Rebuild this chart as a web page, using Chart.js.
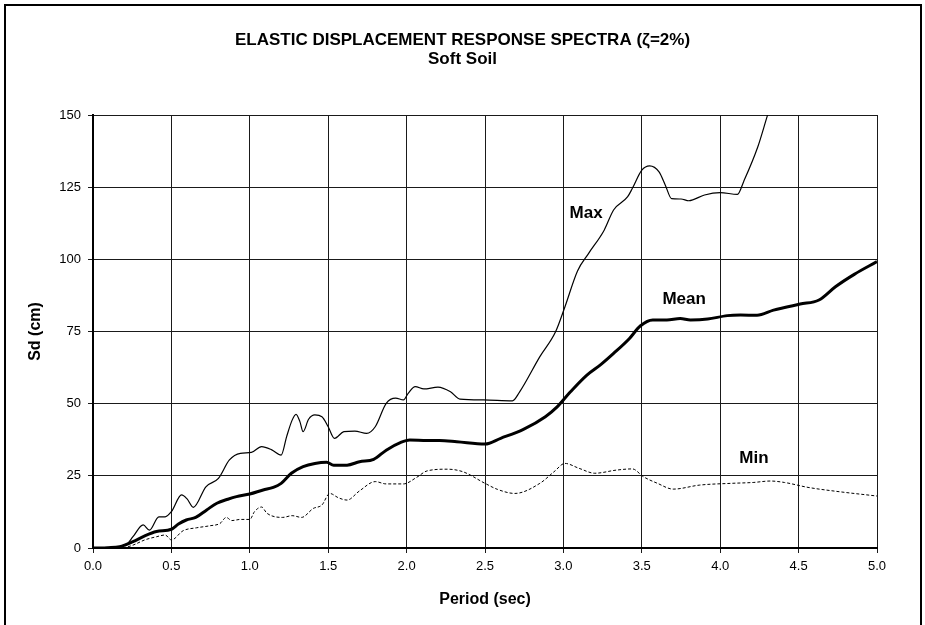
<!DOCTYPE html>
<html>
<head>
<meta charset="utf-8">
<title>Elastic Displacement Response Spectra</title>
<script src="https://cdn.jsdelivr.net/npm/chart.js@4.4.1/dist/chart.umd.min.js"></script>
<style>
  html, body { margin: 0; padding: 0; background: #fff; overflow: hidden; }
  .frame {
    position: absolute; left: 4px; top: 4px;
    width: 914px; height: 700px;
    border: 2px solid #000;
  }
  .wrap { position: absolute; left: 0; top: 0; width: 925px; height: 625px; }
</style>
</head>
<body>
<div class="frame"></div>
<div class="wrap"><canvas id="spectra"></canvas></div>
<script>
// Sd (cm) vs period (sec), soft soil, 2% damping
const maxPeriods = [0.00, 0.10, 0.17, 0.22, 0.255, 0.32, 0.36, 0.42, 0.46, 0.50, 0.565, 0.60, 0.64, 0.72, 0.80, 0.87, 0.94, 1.01, 1.075, 1.14, 1.20, 1.235, 1.27, 1.295, 1.32, 1.34, 1.375, 1.415, 1.46, 1.50, 1.54, 1.60, 1.67, 1.745, 1.80, 1.87, 1.93, 1.98, 2.01, 2.055, 2.11, 2.20, 2.28, 2.34, 2.49, 2.675, 2.72, 2.85, 2.95, 3.01, 3.09, 3.16, 3.26, 3.32, 3.41, 3.44, 3.50, 3.55, 3.61, 3.65, 3.69, 3.75, 3.80, 3.90, 4.00, 4.11, 4.15, 4.24, 4.30, 4.36];
const maxSd = [0.0, 0.2, 0.5, 1.5, 3.9, 8.0, 6.2, 10.8, 10.8, 12.6, 18.4, 17.0, 14.1, 21.2, 24.1, 30.5, 32.8, 33.1, 35.1, 34.0, 32.2, 38.6, 44.3, 46.3, 43.7, 40.3, 44.6, 46.1, 45.5, 42.0, 38.0, 40.3, 40.5, 39.7, 42.0, 50.1, 51.9, 51.3, 53.6, 55.9, 55.1, 55.7, 54.1, 51.6, 51.3, 51.0, 54.0, 66.3, 74.9, 83.6, 96.0, 102.0, 110.1, 117.1, 121.7, 124.6, 130.9, 132.4, 130.3, 125.7, 121.0, 120.9, 120.3, 122.3, 123.1, 122.5, 127.0, 139.0, 149.6, 160.0];

const meanPeriods = [0.00, 0.10, 0.17, 0.255, 0.33, 0.405, 0.50, 0.545, 0.595, 0.655, 0.725, 0.79, 0.86, 0.915, 1.00, 1.085, 1.15, 1.20, 1.265, 1.34, 1.415, 1.49, 1.535, 1.62, 1.70, 1.79, 1.87, 1.96, 2.02, 2.13, 2.21, 2.32, 2.50, 2.60, 2.745, 2.885, 2.96, 3.045, 3.15, 3.24, 3.32, 3.42, 3.49, 3.57, 3.66, 3.745, 3.81, 3.92, 4.045, 4.13, 4.235, 4.34, 4.51, 4.63, 4.735, 4.855, 5.00];
const meanSd = [0.0, 0.1, 0.45, 2.2, 4.2, 5.7, 6.5, 8.3, 9.7, 10.6, 13.2, 15.5, 16.9, 17.8, 18.7, 20.1, 21.0, 22.4, 25.9, 28.2, 29.3, 29.7, 28.7, 28.7, 29.9, 30.7, 33.9, 36.5, 37.4, 37.2, 37.2, 36.8, 36.0, 38.0, 41.1, 45.5, 48.9, 54.1, 59.9, 63.6, 67.4, 72.5, 76.9, 79.0, 79.0, 79.5, 79.0, 79.3, 80.5, 80.7, 80.6, 82.4, 84.5, 85.9, 90.5, 94.8, 99.2];

const minPeriods = [0.00, 0.19, 0.255, 0.33, 0.405, 0.46, 0.50, 0.575, 0.66, 0.745, 0.81, 0.85, 0.885, 0.94, 1.00, 1.03, 1.075, 1.11, 1.21, 1.27, 1.33, 1.405, 1.46, 1.51, 1.565, 1.62, 1.70, 1.80, 1.87, 1.98, 2.065, 2.13, 2.26, 2.36, 2.50, 2.58, 2.69, 2.85, 2.94, 3.01, 3.10, 3.20, 3.34, 3.44, 3.51, 3.60, 3.70, 3.87, 4.07, 4.21, 4.32, 4.41, 4.56, 4.73, 5.00];
const minSd = [0.0, 0.1, 1.0, 2.8, 3.9, 4.5, 2.8, 6.0, 7.0, 7.7, 8.5, 10.6, 9.5, 9.9, 9.9, 12.6, 14.2, 12.0, 10.6, 11.2, 10.6, 13.7, 14.9, 18.9, 17.4, 16.6, 19.8, 23.0, 22.2, 22.2, 24.5, 26.7, 27.3, 26.4, 22.4, 20.3, 18.9, 22.4, 26.4, 29.3, 27.6, 25.9, 27.0, 27.4, 24.7, 22.4, 20.4, 21.8, 22.4, 22.7, 23.2, 22.7, 21.0, 19.7, 18.0];

const periodTicks = [0, 0.5, 1, 1.5, 2, 2.5, 3, 3.5, 4, 4.5, 5];
const sdTicks = [0, 25, 50, 75, 100, 125, 150];

const titleLines = ['ELASTIC DISPLACEMENT RESPONSE SPECTRA (\u03B6=2%)', 'Soft Soil'];
const seriesNames = ['Max', 'Mean', 'Min'];
// where each curve name sits, in axis units
const nameAt = [[3.145, 116], [3.77, 86.2], [4.215, 31.1]];

const FONT = '"Liberation Sans", Arial, Helvetica, sans-serif';

function toPoints(xs, ys) {
    return xs.map((x, i) => ({ x: x, y: ys[i] }));
}

// titles and curve names
const labelsPlugin = {
    id: 'spectraLabels',
    afterDraw(chart) {
        const ctx = chart.ctx;
        const xs = chart.scales.x;
        const ys = chart.scales.y;
        ctx.save();
        ctx.fillStyle = '#000';
        ctx.textAlign = 'center';
        ctx.textBaseline = 'middle';
        ctx.font = 'bold 17px ' + FONT;
        ctx.fillText(titleLines[0], chart.width / 2, 40);
        ctx.fillText(titleLines[1], chart.width / 2, 59);
        seriesNames.forEach((name, i) => {
            ctx.fillText(name, xs.getPixelForValue(nameAt[i][0]), ys.getPixelForValue(nameAt[i][1]));
        });
        ctx.restore();
    }
};

const ctx = document.getElementById('spectra').getContext('2d');
new Chart(ctx, {
    type: 'line',
    data: {
        datasets: [{
            label: seriesNames[0],
            data: toPoints(maxPeriods, maxSd),
            borderColor: '#000',
            borderWidth: 1.2,
            pointRadius: 0,
            cubicInterpolationMode: 'monotone'
        }, {
            label: seriesNames[1],
            data: toPoints(meanPeriods, meanSd),
            borderColor: '#000',
            borderWidth: 3,
            pointRadius: 0,
            cubicInterpolationMode: 'monotone'
        }, {
            label: seriesNames[2],
            data: toPoints(minPeriods, minSd),
            borderColor: '#000',
            borderWidth: 1,
            borderDash: [3, 2],
            pointRadius: 0,
            cubicInterpolationMode: 'monotone'
        }]
    },
    options: {
        responsive: true,
        maintainAspectRatio: false,
        animation: false,
        layout: { padding: { left: 0, top: 115, right: 48, bottom: 0 } },
        plugins: {
            legend: { display: false },
            tooltip: { enabled: false },
            title: { display: false }
        },
        scales: {
            x: {
                type: 'linear',
                min: 0,
                max: 5,
                afterFit: (scale) => { scale.height = 77; },
                afterBuildTicks: (scale) => { scale.ticks = periodTicks.map(v => ({ value: v })); },
                ticks: {
                    color: '#000',
                    padding: 6,
                    maxRotation: 0,
                    font: { family: FONT, size: 13 },
                    callback: (v) => v.toFixed(1)
                },
                grid: { color: '#1a1a1a', lineWidth: 1, tickLength: 5 },
                border: { color: '#000', width: 2 },
                title: {
                    display: true,
                    text: 'Period (sec)',
                    color: '#000',
                    font: { family: FONT, size: 16, weight: 'bold' },
                    padding: { top: 0, bottom: 16 }
                }
            },
            y: {
                type: 'linear',
                min: 0,
                max: 150,
                afterFit: (scale) => { scale.width = 93; },
                afterBuildTicks: (scale) => { scale.ticks = sdTicks.map(v => ({ value: v })); },
                ticks: {
                    color: '#000',
                    padding: 7,
                    font: { family: FONT, size: 13 }
                },
                grid: { color: '#1a1a1a', lineWidth: 1, tickLength: 5 },
                border: { color: '#000', width: 2 },
                title: {
                    display: true,
                    text: 'Sd (cm)',
                    color: '#000',
                    font: { family: FONT, size: 16, weight: 'bold' },
                    padding: { top: 26, bottom: 0 }
                }
            }
        }
    },
    plugins: [labelsPlugin]
});
</script>
</body>
</html>
